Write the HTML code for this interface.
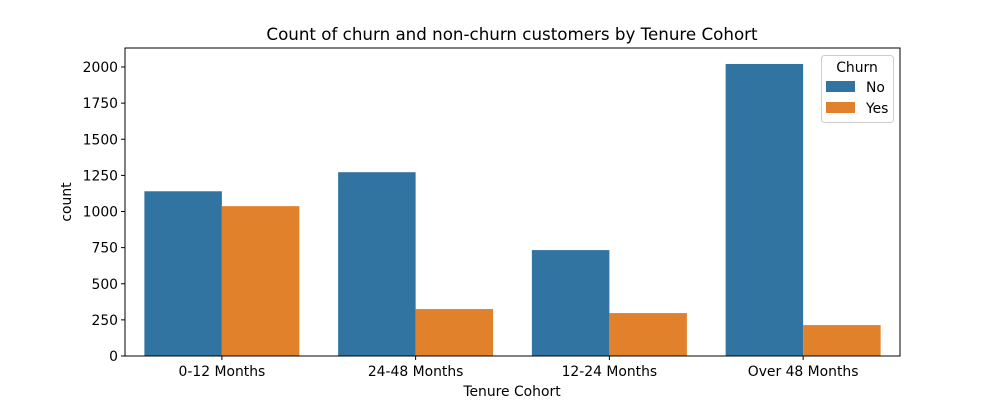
<!DOCTYPE html>
<html><head><meta charset="utf-8"><style>
body{margin:0;background:#fff;}
svg text{font-family:"DejaVu Sans","Liberation Sans",sans-serif;fill:#000;}
</style></head><body>
<svg width="1000" height="400" xmlns="http://www.w3.org/2000/svg">
<text x="512" y="40" font-size="16.7" text-anchor="middle">Count of churn and non-churn customers by Tenure Cohort</text>
<g id="bars"></g><g id="axes"></g>
<rect x="125" y="48" width="775" height="308" fill="none" stroke="#000" stroke-width="1"/>
<text x="512" y="396" font-size="13.9" text-anchor="middle">Tenure Cohort</text>
<text x="71" y="202" font-size="13.9" text-anchor="middle" transform="rotate(-90 71 202)">count</text>
<g>
<rect x="821.5" y="55.5" width="72" height="67" rx="3" fill="#fff" stroke="#ccc"/>
<text x="857" y="72" font-size="13.9" text-anchor="middle">Churn</text>
<rect x="826" y="81" width="29" height="11" fill="#3274a1"/>
<text x="866" y="92" font-size="13.9">No</text>
<rect x="826" y="102" width="29" height="11" fill="#e1812c"/>
<text x="866" y="113" font-size="13.9">Yes</text>
</g>
</svg>
<script>
const categories=["0-12 Months","24-48 Months","12-24 Months","Over 48 Months"];
const noValues=[1140,1272,733,2021];
const yesValues=[1037,325,297,214];
const yTicks=[0,250,500,750,1000,1250,1500,1750,2000];
const NS="http://www.w3.org/2000/svg";
const L=125,R=900,B=356,T=48;
const y=v=>B-v*(289/2000);
const bw=(R-L)/categories.length;
const xc=i=>L+bw*(i+0.5);
const bars=document.getElementById('bars'),axes=document.getElementById('axes');
function mk(t,a,p){const e=document.createElementNS(NS,t);for(const k in a)e.setAttribute(k,a[k]);p.appendChild(e);return e;}
categories.forEach((c,i)=>{
 const w=bw*0.4;
 let r=mk('rect',{x:xc(i)-w,y:y(noValues[i]),width:w,height:B-y(noValues[i]),fill:'#3274a1'},bars);
 
 
 r=mk('rect',{x:xc(i),y:y(yesValues[i]),width:w,height:B-y(yesValues[i]),fill:'#e1812c'},bars);
 
 
 mk('line',{x1:xc(i),x2:xc(i),y1:B,y2:B+4,stroke:'#000'},axes);
 const t=mk('text',{x:xc(i),y:B+20,'font-size':13.9,'text-anchor':'middle'},axes);
 t.textContent=c;
 
 
});
yTicks.forEach(v=>{
 mk('line',{x1:L-4,x2:L,y1:y(v),y2:y(v),stroke:'#000'},axes);
 const t=mk('text',{x:L-7,y:y(v)+5,'font-size':13.9,'text-anchor':'end'},axes);
 t.textContent=v;
 
 
});
</script>
</body></html>
